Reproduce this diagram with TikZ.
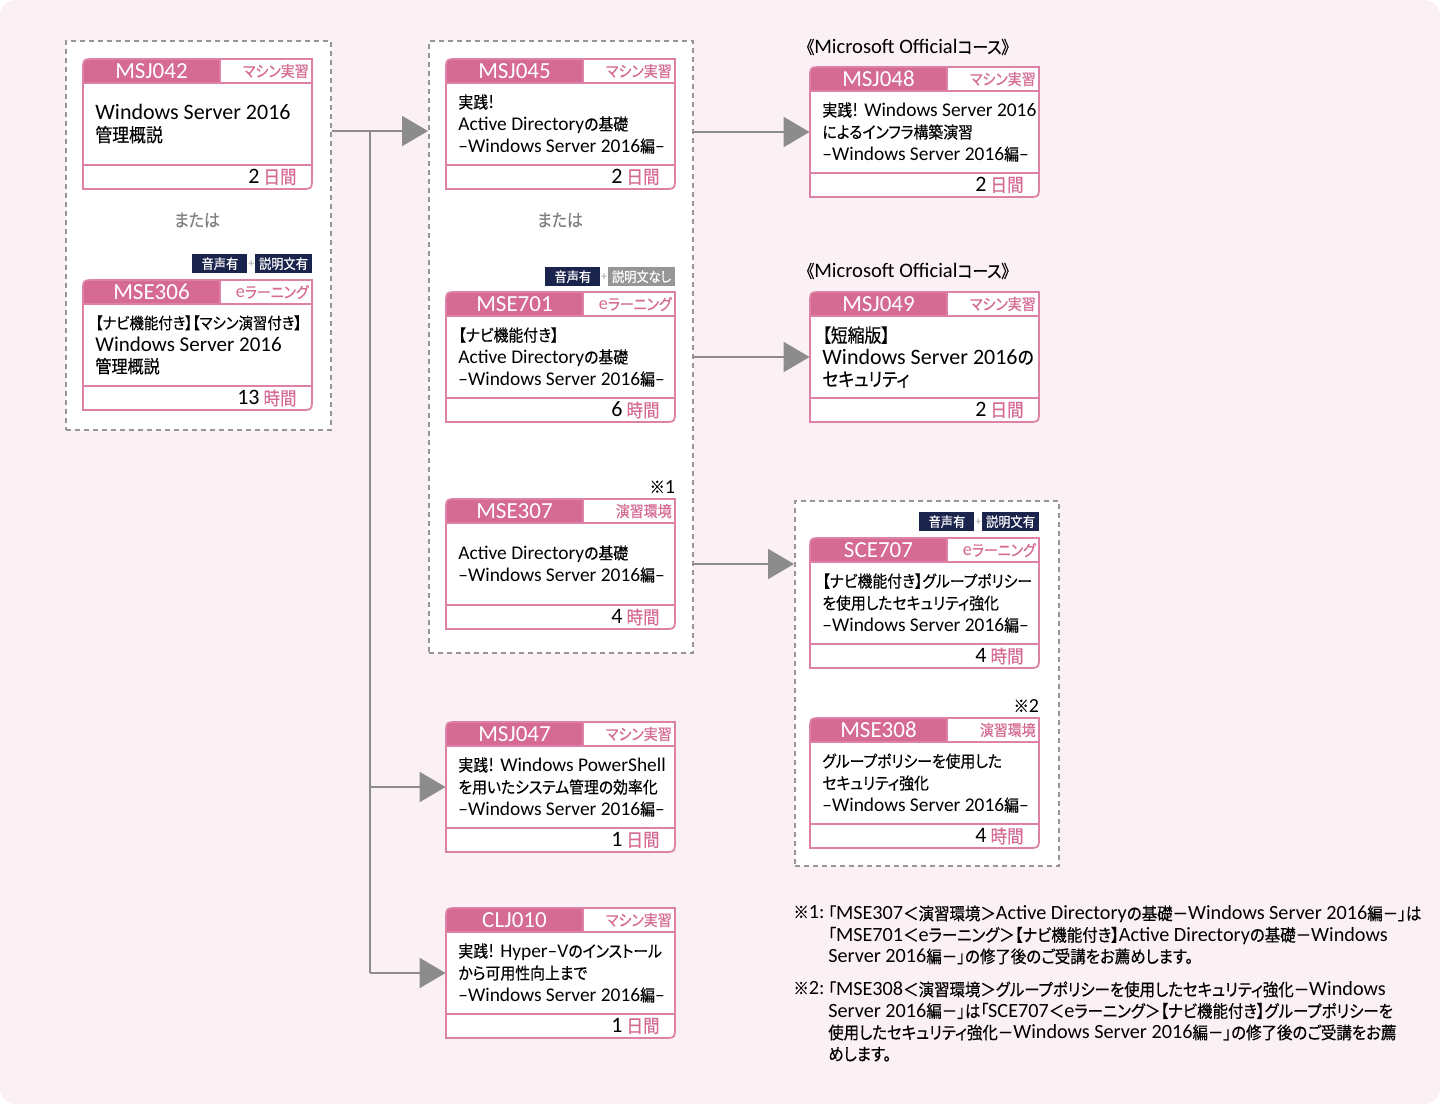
\documentclass[tikz,border=0pt]{standalone}
\usepackage{fontspec}
\setmainfont{Carlito}
\newfontfamily\latinfamily{Carlito}
\newfontfamily\jpfamily[Scale=0.85,FakeStretch=0.9,FakeBold=0.4,
  RawFeature=+palt]{Noto Sans CJK JP}
\usepackage{xcolor}
\usepackage{tikz}
\usetikzlibrary{arrows.meta, positioning}
\definecolor{CardPink}{RGB}{213,106,146}
\definecolor{LinePink}{RGB}{221,130,166}
\definecolor{BgPink}{RGB}{251,241,245}
\definecolor{BadgeNavy}{RGB}{26,36,76}
\definecolor{BadgeGray}{RGB}{150,150,150}
\definecolor{MidGray}{RGB}{140,140,140}
\definecolor{DashGray}{RGB}{150,150,150}

% Japanese runs in Noto Sans CJK, the rest in Carlito
\XeTeXinterchartokenstate=1
\newcount\jpcode
\jpcode="2E80
\loop
  \XeTeXcharclass\jpcode=7
  \advance\jpcode by 1
\ifnum\jpcode<"A000 \repeat
\jpcode="FF00
\loop
  \XeTeXcharclass\jpcode=7
  \advance\jpcode by 1
\ifnum\jpcode<"FFF0 \repeat
\XeTeXcharclass"203B=7
\XeTeXinterchartoks 0 7 = {\jpfamily}
\XeTeXinterchartoks 4095 7 = {\jpfamily}
\XeTeXinterchartoks 7 0 = {\latinfamily}
\XeTeXinterchartoks 7 4095 = {\latinfamily}

% [body style]{name}{top left}{code}{tag}{body}{number}{unit}
\newcommand{\coursecard}[8][]{%
  \begin{scope}[shift={#3}]
    \fill[white] (0,130) -- (0,12) .. controls (0,0) .. (12,0) -- (229,0)
      -- (229,118) .. controls (229,130) .. (217,130) -- cycle;
    \fill[CardPink] (0,24) -- (0,12) .. controls (0,0) .. (12,0)
      -- (137,0) -- (137,24) -- cycle;
    \filldraw[cardline, fill=white] (137,0) rectangle (229,24);
    \draw[cardline] (0,24) -- (229,24) (0,106) -- (229,106);
    \draw[cardline] (0,130) -- (0,12) .. controls (0,0) .. (12,0) -- (229,0)
      -- (229,118) .. controls (229,130) .. (217,130) -- cycle;
    \node[cardbox] (#2) at (114.5,65) {};
    \node[codetx] (#2-code) at (68.5,12) {#4};
    \node[tagtx, anchor=east] (#2-tag) at (226,12) {#5};
    \node[bodytx, anchor=west, #1] (#2-body) at (12,65) {#6};
    \node[timetx, anchor=east] (#2-time) at (214,118)
      {#7\hspace{2pt}{\color{CardPink}\fontsize{10.8}{11}\selectfont #8}};
  \end{scope}}

\begin{document}
\begin{tikzpicture}[
  x=0.5pt, y=-0.5pt,
  groupbox/.style={rectangle, draw=DashGray, fill=white, line width=0.9pt,
                   dash pattern=on 2.5pt off 2pt, inner sep=0pt},
  cardline/.style={draw=LinePink, line width=0.9pt},
  cardbox/.style={rectangle, minimum width=114.5pt, minimum height=65pt,
                  inner sep=0pt},
  codetx/.style={text=white, font=\fontsize{11.5}{12}\selectfont, inner sep=0pt},
  tagtx/.style={text=CardPink, font=\fontsize{9.1}{10}\selectfont, inner sep=0pt},
  bodytx/.style={font=\fontsize{9.7}{11}\selectfont, align=left, inner sep=0pt},
  timetx/.style={font=\fontsize{11}{11}\selectfont, inner sep=0pt},
  badge/.style={rectangle, fill=BadgeNavy, text=white,
                font=\fontsize{8}{9}\selectfont, inner xsep=2pt,
                inner ysep=0pt, minimum height=9.5pt, minimum width=27.5pt},
  plustx/.style={text=gray!70, font=\fontsize{6}{6}\selectfont, inner sep=0pt},
  ortx/.style={text=gray, font=\fontsize{10.4}{12}\selectfont},
  titletx/.style={font=\fontsize{10.3}{11}\selectfont, inner sep=0pt},
  marktx/.style={font=\fontsize{10}{11}\selectfont, inner sep=0pt},
  notetx/.style={font=\fontsize{10.1}{10.75}\selectfont, align=left, inner sep=0pt},
  link/.style={MidGray, line width=1pt},
  arrow/.style={link, -{Triangle[length=13pt, width=15pt]}},
]
\useasboundingbox (0,0) rectangle (1440,1104);
\fill[BgPink, rounded corners=8pt] (0,0) rectangle (1440,1104);

% Group boxes
\node[groupbox, anchor=north west, minimum width=132.5pt,
      minimum height=194.5pt] (g1) at (65,40) {};
\node[groupbox, anchor=north west, minimum width=132pt,
      minimum height=306pt] (g2) at (428,40) {};
\node[groupbox, anchor=north west, minimum width=132pt,
      minimum height=182.5pt] (g3) at (794,500) {};

% First column
\coursecard[font=\fontsize{11}{11}\selectfont]{msj042}{(83,59)}{MSJ042}{マシン実習}
  {Windows Server 2016\\管理概説}{2}{日間}
\node[ortx] (or1) at (197,220) {または};
\coursecard[font=\fontsize{10.5}{11}\selectfont]{mse306}{(83,280)}{MSE306}{eラーニング}
  {\fontsize{9.4}{11}\selectfont【ナビ機能付き】【マシン演習付き】\\Windows Server 2016\\管理概説}{13}{時間}
\node[badge, anchor=south east] (mse306-text) at ([yshift=3pt]mse306.north east) {説明文有};
\node[plustx, left=0pt of mse306-text] (mse306-plus) {+};
\node[badge, left=0pt of mse306-plus] (mse306-voice) {音声有};

% Second column
\coursecard{msj045}{(446,59)}{MSJ045}{マシン実習}
  {実践!\\Active Directoryの基礎\\–Windows Server 2016編–}{2}{日間}
\node[ortx] (or2) at (560,220) {または};
\coursecard{mse701}{(446,292)}{MSE701}{eラーニング}
  {【ナビ機能付き】\\Active Directoryの基礎\\–Windows Server 2016編–}{6}{時間}
\node[badge, fill=BadgeGray, anchor=south east] (mse701-text)
  at ([yshift=2.5pt]mse701.north east) {説明文なし};
\node[plustx, left=0pt of mse701-text] (mse701-plus) {+};
\node[badge, left=0pt of mse701-plus] (mse701-voice) {音声有};
\coursecard{mse307}{(446,499)}{MSE307}{演習環境}
  {Active Directoryの基礎\\–Windows Server 2016編–}{4}{時間}
\node[marktx, anchor=south east] (mse307-mark) at ([yshift=2.5pt]mse307.north east) {※1};
\coursecard{msj047}{(446,722)}{MSJ047}{マシン実習}
  {実践! Windows PowerShell\\を用いたシステム管理の効率化\\–Windows Server 2016編–}{1}{日間}
\coursecard{clj010}{(446,908)}{CLJ010}{マシン実習}
  {実践! Hyper–Vのインストール\\から可用性向上まで\\–Windows Server 2016編–}{1}{日間}

% Third column
\node[titletx, anchor=west] (msj048-title) at (806,47) {《Microsoft Officialコース》};
\coursecard{msj048}{(810,67)}{MSJ048}{マシン実習}
  {実践! Windows Server 2016\\によるインフラ構築演習\\–Windows Server 2016編–}{2}{日間}
\node[titletx, anchor=west] (msj049-title) at (806,271) {《Microsoft Officialコース》};
\coursecard[font=\fontsize{11}{11}\selectfont]{msj049}{(810,292)}{MSJ049}{マシン実習}
  {【短縮版】\\Windows Server 2016の\\セキュリティ}{2}{日間}
\coursecard{sce707}{(810,538)}{SCE707}{eラーニング}
  {【ナビ機能付き】グループポリシー\\を使用したセキュリティ強化\\–Windows Server 2016編–}{4}{時間}
\node[badge, anchor=south east] (sce707-text) at ([yshift=3pt]sce707.north east) {説明文有};
\node[plustx, left=0pt of sce707-text] (sce707-plus) {+};
\node[badge, left=0pt of sce707-plus] (sce707-voice) {音声有};
\coursecard{mse308}{(810,718)}{MSE308}{演習環境}
  {グループポリシーを使用した\\セキュリティ強化\\–Windows Server 2016編–}{4}{時間}
\node[marktx, anchor=south east] (mse308-mark) at ([yshift=2.5pt]mse308.north east) {※2};

% Arrows
\coordinate (trunk) at (370,131);
\draw[link] (g1.east |- trunk) -- (trunk);
\draw[arrow] (trunk) -- (g2.west |- trunk);
\draw[link] (trunk) -- (trunk |- clj010.west);
\draw[arrow] (trunk |- msj047.west) -- (msj047.west);
\draw[arrow] (trunk |- clj010.west) -- (clj010.west);
\draw[arrow] (g2.east |- msj048.west) -- (msj048.west);
\draw[arrow] (g2.east |- msj049.west) -- (msj049.west);
\draw[arrow] (g2.east |- mse307.west) -- (g3.west |- mse307.west);

% Notes
\node[notetx, anchor=north west] (note1-mark) at (793,905) {※1:};
\node[notetx, anchor=north west] (note1) at ([xshift=1.5pt]note1-mark.north east)
  {「MSE307＜演習環境＞Active Directoryの基礎－Windows Server 2016編－」は\\
   「MSE701＜eラーニング＞【ナビ機能付き】Active Directoryの基礎－Windows\\
   Server 2016編－」の修了後のご受講をお薦めします。};
\node[notetx, anchor=north west] (note2-mark) at (793,981) {※2:};
\node[notetx, anchor=north west] (note2) at ([xshift=1.5pt]note2-mark.north east)
  {「MSE308＜演習環境＞グループポリシーを使用したセキュリティ強化－Windows\\
   Server 2016編－」は「SCE707＜eラーニング＞【ナビ機能付き】グループポリシーを\\
   使用したセキュリティ強化－Windows Server 2016編－」の修了後のご受講をお薦\\
   めします。};

\end{tikzpicture}
\end{document}
